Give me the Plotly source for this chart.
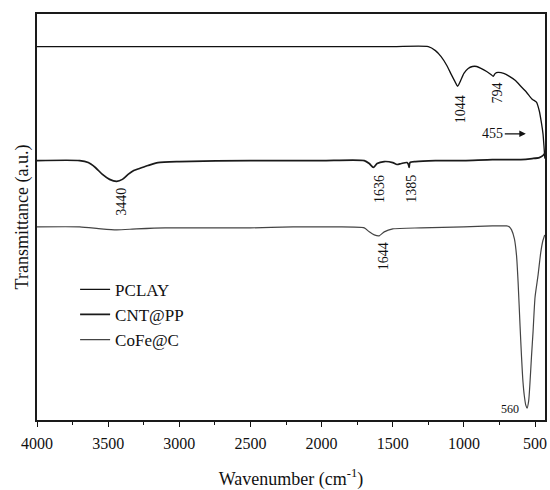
import plotly.graph_objects as go

# ---------------- data ----------------
pclay_wn = [4000, 3500, 3000, 2500, 2000, 1500, 1250, 1200, 1160, 1120, 1089, 1060, 1044, 1025,
            1000, 970, 940, 910, 880, 840, 810, 794, 780, 760, 720, 680, 640, 600, 560, 520,
            490, 470, 455, 444, 436, 431]
pclay_t = [91.95, 91.95, 91.95, 91.95, 91.95, 91.95, 91.95, 90.98, 89.51, 87.32, 85.12, 83.17, 82.20, 83.41,
           85.37, 86.59, 87.07, 87.07, 86.59, 85.85, 85.12, 84.63, 85.37, 85.61, 85.37, 84.63, 83.66, 82.20, 80.73, 79.02,
           78.29, 76.10, 73.17, 70.49, 66.83, 64.39]

cnt_wn = [4000, 3700, 3640, 3590, 3540, 3490, 3440, 3400, 3360, 3320, 3280, 3220, 3150, 3000,
          2500, 2000, 1700, 1665, 1636, 1610, 1560, 1500, 1470, 1440, 1400, 1390, 1385, 1379,
          1340, 1200, 1000, 800, 600, 520, 470, 445, 432]
cnt_t = [63.90, 63.90, 63.41, 62.20, 60.49, 59.27, 58.78, 59.27, 60.49, 61.46, 61.95, 62.68, 63.41, 63.66,
         63.90, 63.90, 63.90, 63.17, 62.20, 63.17, 63.66, 63.41, 62.93, 63.17, 63.41, 62.93, 62.20, 63.41,
         63.66, 63.90, 63.90, 64.15, 64.15, 64.39, 64.63, 65.12, 65.61]

cofe_wn = [4000, 3700, 3550, 3440, 3300, 3100, 2500, 2200, 1900, 1700, 1665, 1630, 1595, 1560,
           1500, 1300, 1000, 800, 700, 680, 665, 645, 630, 619, 605, 595, 585, 575, 565, 556,
           545, 535, 525, 514, 500, 479, 460, 445, 432]
cofe_t = [47.56, 47.56, 47.07, 46.83, 47.07, 47.32, 47.32, 47.56, 47.56, 47.32, 46.34, 45.61, 45.37, 46.34,
          47.07, 47.32, 47.56, 47.80, 47.80, 47.56, 46.83, 44.63, 40.49, 33.90, 22.93, 15.61, 9.51, 5.85, 3.66, 2.93,
          4.63, 9.51, 15.61, 21.71, 30.24, 35.61, 41.22, 44.15, 45.61]

tick_vals = [4000, 3500, 3000, 2500, 2000, 1500, 1000, 500]
tick_text = ["4000", "3500", "3000", "2500", "2000", "1500", "1000", "500"]

# peak labels: (text, wavenumber, transmittance, angle, size)
peak_labels = [
    ("1044", 1025, 76.59, -90, 14),
    ("794", 766, 80.49, -90, 14),
    ("3440", 3412, 53.66, -90, 14),
    ("1636", 1592, 56.83, -90, 14),
    ("1385", 1368, 56.83, -90, 14),
    ("1644", 1564, 40.24, -90, 14),
    ("560", 675, 2.68, 0, 12),
]
# "455" label with arrow pointing to the curve
arrow_label = "455"
arrow_head = (565, 70.49)

FONT = "Liberation Serif, Times New Roman, serif"

fig = go.Figure()
fig.add_trace(go.Scatter(x=pclay_wn, y=pclay_t, mode="lines", name="PCLAY",
                         line=dict(color="#111111", width=1.3, shape="spline", smoothing=0.6)))
fig.add_trace(go.Scatter(x=cnt_wn, y=cnt_t, mode="lines", name="CNT@PP",
                         line=dict(color="#1a1a1a", width=1.7, shape="spline", smoothing=0.6)))
fig.add_trace(go.Scatter(x=cofe_wn, y=cofe_t, mode="lines", name="CoFe@C",
                         line=dict(color="#444444", width=1.2, shape="spline", smoothing=0.6)))

for txt, xv, yv, ang, sz in peak_labels:
    fig.add_annotation(x=xv, y=yv, xref="x", yref="y", text=txt, showarrow=False,
                       textangle=ang, font=dict(family=FONT, size=sz, color="#111111"))

fig.add_annotation(x=arrow_head[0], y=arrow_head[1], xref="x", yref="y",
                   ax=-33, ay=0, text=arrow_label, showarrow=True,
                   arrowhead=2, arrowsize=1, arrowwidth=1.3, arrowcolor="#111111",
                   font=dict(family=FONT, size=14, color="#111111"))

fig.update_layout(
    width=550, height=490,
    margin=dict(l=37, r=3, t=14, b=66),
    paper_bgcolor="white", plot_bgcolor="white",
    font=dict(family=FONT, color="#111111"),
    showlegend=True,
    legend=dict(x=0.075, y=0.365, xanchor="left", yanchor="top",
                font=dict(family=FONT, size=17, color="#111111"),
                bgcolor="rgba(0,0,0,0)", borderwidth=0, tracegroupgap=0),
    xaxis=dict(range=[4000, 430], tickmode="array", tickvals=tick_vals, ticktext=tick_text,
               ticks="outside", ticklen=5, tickwidth=1.3, tickcolor="#111111",
               ticklabelstandoff=3,
               minor=dict(dtick=250, tick0=0, ticks="outside", ticklen=3, tickcolor="#111111"),
               showline=True, linecolor="#1a1a1a", linewidth=1.6, mirror=True,
               showgrid=False, zeroline=False,
               tickfont=dict(family=FONT, size=16, color="#111111"),
               title=dict(text="Wavenumber (cm<sup>-1</sup>)", standoff=22,
                          font=dict(family=FONT, size=18, color="#111111"))),
    yaxis=dict(range=[0, 100], showticklabels=False, ticks="",
               showline=True, linecolor="#1a1a1a", linewidth=1.6, mirror=True,
               showgrid=False, zeroline=False,
               title=dict(text="Transmittance (a.u.)", standoff=2,
                          font=dict(family=FONT, size=18, color="#111111"))),
)

fig.write_html("out.html")
